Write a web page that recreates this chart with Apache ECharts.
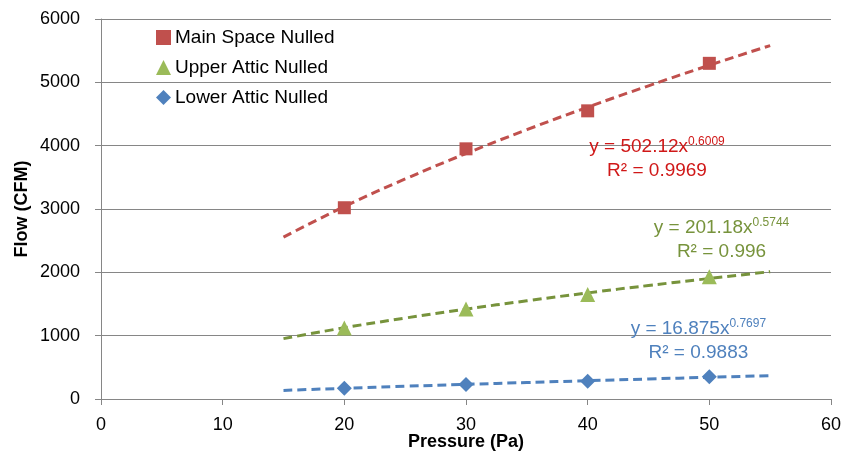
<!DOCTYPE html>
<html>
<head>
<meta charset="utf-8">
<script src="https://cdn.jsdelivr.net/npm/echarts@6/dist/echarts.min.js"></script>
<style>
  html, body { margin: 0; padding: 0; background: #fff; }
  #chart-panel { width: 852px; height: 457px; }
</style>
</head>
<body>
<div id="chart-panel"></div>
<script>
// measured points
var pressure = [20, 30, 40, 50];
var mainFlow = [3020, 3950, 4550, 5300];
var upperFlow = [1120, 1420, 1650, 1930];
var lowerFlow = [170, 230, 280, 350];

// trendlines (15..55 Pa)
var trendX = [15, 20, 25, 30, 35, 40, 45, 50, 55];
var mainTrend = [2556, 3038, 3474, 3876, 4252, 4608, 4945, 5270, 5580];
var upperTrend = [953, 1125, 1278, 1419, 1551, 1675, 1792, 1903, 2010];
var lowerTrend = [136, 169, 201, 231, 260, 289, 316, 343, 369];

var xTicks = [0, 10, 20, 30, 40, 50, 60];
var yTicks = [0, 1000, 2000, 3000, 4000, 5000, 6000];

var seriesNames = ['Main Space Nulled', 'Upper Attic Nulled', 'Lower Attic Nulled'];

// equation labels: [x, y, base, exponent, r2]
var eqMain = [45.7, 3830, 'y = 502.12x', '0.6009', 'R² = 0.9969'];
var eqUpper = [51.0, 2550, 'y = 201.18x', '0.5744', 'R² = 0.996'];
var eqLower = [49.1, 960, 'y = 16.875x', '0.7697', 'R² = 0.9883'];

var font = "'Liberation Sans', Arial, sans-serif";

function pairs(xs, ys) {
    return xs.map(function (x, i) { return [x, ys[i]]; });
}

function eqMarks(eq, color) {
    return {
        silent: true,
        symbol: 'circle',
        symbolSize: 1,
        itemStyle: { color: 'rgba(0,0,0,0)' },
        data: [{
            coord: [eq[0], eq[1]],
            label: {
                show: true,
                position: 'inside',
                formatter: '{b|' + eq[2] + '}{s|' + eq[3] + '}\n{b|' + eq[4] + '}',
                align: 'center',
                verticalAlign: 'middle',
                rich: {
                    b: { color: color, fontSize: 19, fontFamily: font, lineHeight: 24, verticalAlign: 'bottom' },
                    s: { color: color, fontSize: 12, fontFamily: font, lineHeight: 24, verticalAlign: 'bottom', padding: [0, 0, 9, 0] }
                }
            }
        }]
    };
}

function trend(data, color) {
    return {
        type: 'line',
        data: data,
        smooth: true,
        symbol: 'none',
        silent: true,
        z: 1,
        lineStyle: { color: color, width: 3, type: [9, 5] }
    };
}

var chartOption = {
    backgroundColor: '#fff',
    animation: false,
    grid: {
        left: 101,
        right: 21,
        top: 19,
        bottom: 58,
        outerBoundsMode: 'none'
    },
    legend: {
        left: 151,
        top: 23,
        orient: 'vertical',
        itemWidth: 15,
        itemHeight: 15,
        itemGap: 11,
        textStyle: { fontSize: 19, fontFamily: font, color: '#000', padding: [0, 0, 0, -1] },
        data: [
            { name: seriesNames[0], icon: 'rect' },
            { name: seriesNames[1], icon: 'triangle' },
            { name: seriesNames[2], icon: 'diamond' }
        ]
    },
    xAxis: {
        type: 'value',
        min: xTicks[0],
        max: xTicks[xTicks.length - 1],
        interval: 10,
        name: 'Pressure (Pa)',
        nameLocation: 'middle',
        nameGap: 34,
        nameMoveOverlap: false,
        nameTextStyle: { fontSize: 18, fontWeight: 'bold', fontFamily: font, color: '#000' },
        axisLine: { lineStyle: { color: '#868686', width: 1 } },
        axisTick: { show: true, length: 6, lineStyle: { color: '#868686' } },
        axisLabel: { fontSize: 18, fontFamily: font, color: '#000', margin: 17 },
        splitLine: { show: false }
    },
    yAxis: {
        type: 'value',
        min: yTicks[0],
        max: yTicks[yTicks.length - 1],
        interval: 1000,
        name: 'Flow (CFM)',
        nameLocation: 'middle',
        nameRotate: 90,
        nameGap: 70,
        nameMoveOverlap: false,
        nameTextStyle: { fontSize: 18, fontWeight: 'bold', fontFamily: font, color: '#000' },
        axisLine: { show: true, lineStyle: { color: '#868686', width: 1 } },
        axisTick: { show: true, length: 6, lineStyle: { color: '#868686' } },
        axisLabel: {
            fontSize: 18, fontFamily: font, color: '#000', margin: 21,
            formatter: function (v) { return String(v); }
        },
        splitLine: { show: true, lineStyle: { color: '#868686', width: 1 } }
    },
    series: [
        trend(pairs(trendX, mainTrend), '#C0504D'),
        trend(pairs(trendX, upperTrend), '#77933C'),
        trend(pairs(trendX, lowerTrend), '#4F81BD'),
        {
            name: seriesNames[0],
            type: 'scatter',
            data: pairs(pressure, mainFlow),
            symbol: 'rect',
            symbolSize: 13,
            z: 3,
            itemStyle: { color: '#C0504D', opacity: 1 },
            markPoint: eqMarks(eqMain, '#D01818')
        },
        {
            name: seriesNames[1],
            type: 'scatter',
            data: pairs(pressure, upperFlow),
            symbol: 'triangle',
            symbolSize: 15,
            z: 3,
            itemStyle: { color: '#9BBB59', opacity: 1 },
            markPoint: eqMarks(eqUpper, '#77933C')
        },
        {
            name: seriesNames[2],
            type: 'scatter',
            data: pairs(pressure, lowerFlow),
            symbol: 'diamond',
            symbolSize: 15,
            z: 3,
            itemStyle: { color: '#4F81BD', opacity: 1 },
            markPoint: eqMarks(eqLower, '#4F81BD')
        }
    ]
};

var myChart = echarts.init(document.getElementById('chart-panel'));
myChart.setOption(chartOption);
</script>
</body>
</html>
